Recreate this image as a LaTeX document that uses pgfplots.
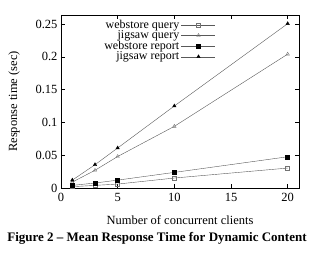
\documentclass[border=0pt]{standalone}
\usepackage{pgfplots}
\pgfplotsset{compat=1.18}
\usepackage{fontspec}
\setmainfont{Liberation Serif}
\begin{document}
\begin{tikzpicture}
\useasboundingbox (-61pt,-64pt) rectangle (259pt,188pt);
\begin{axis}[
  scale only axis,
  width=238pt, height=173pt,
  xmin=0, xmax=21, ymin=0, ymax=0.2637,
  xtick={0,5,10,15,20},
  ytick={0,0.05,0.1,0.15,0.2,0.25},
  scaled y ticks=false,
  yticklabel style={/pgf/number format/fixed,/pgf/number format/precision=2},
  xticklabel style={yshift=-2pt},
  /pgf/number format/assume math mode=true,
  tick align=inside,
  tick style={black, line width=0.5pt},
  major tick length=4pt,
  axis line style={line width=0.6pt},
  ticklabel style={font=\fontsize{12.5}{14}\selectfont},
  xlabel={Number of concurrent clients},
  ylabel={Response time (sec)},
  label style={font=\fontsize{12.5}{14}\selectfont},
  xlabel style={yshift=-7pt},
  ylabel style={yshift=9pt},
  legend plot pos=right,
  legend cell align=right,
  legend style={draw=none, fill=none, at={(0.655,0.99)}, anchor=north east,
    font=\fontsize{12}{12}\selectfont, row sep=-3pt, inner sep=1pt},
  legend image code/.code={\draw[mark repeat=2,mark phase=2] plot coordinates {(0pt,0pt) (17pt,0pt) (34pt,0pt)};},
  every axis plot/.append style={line width=0.4pt},
]
\addplot[black!65, mark=square, mark size=2pt, mark options={black!55}] coordinates {(1,0.002) (3,0.004) (5,0.006) (10,0.0152) (20,0.0304)};
\addlegendentry{webstore query}
\addplot[black!65, mark=triangle, mark size=2pt, mark options={black!55}] coordinates {(1,0.009) (3,0.027) (5,0.048) (10,0.094) (20,0.204)};
\addlegendentry{jigsaw query}
\addplot[black!65, mark=square*, mark size=2pt, mark options={black}] coordinates {(1,0.004) (3,0.0076) (5,0.012) (10,0.0238) (20,0.0476)};
\addlegendentry{webstore report}
\addplot[black!65, mark=triangle*, mark size=2pt, mark options={black}] coordinates {(1,0.012) (3,0.0355) (5,0.061) (10,0.125) (20,0.2505)};
\addlegendentry{jigsaw report}
\end{axis}
\node[font=\bfseries\fontsize{13}{15}\selectfont] at (96pt,-50pt) {Figure 2 – Mean Response Time for Dynamic Content};
\end{tikzpicture}
\end{document}
